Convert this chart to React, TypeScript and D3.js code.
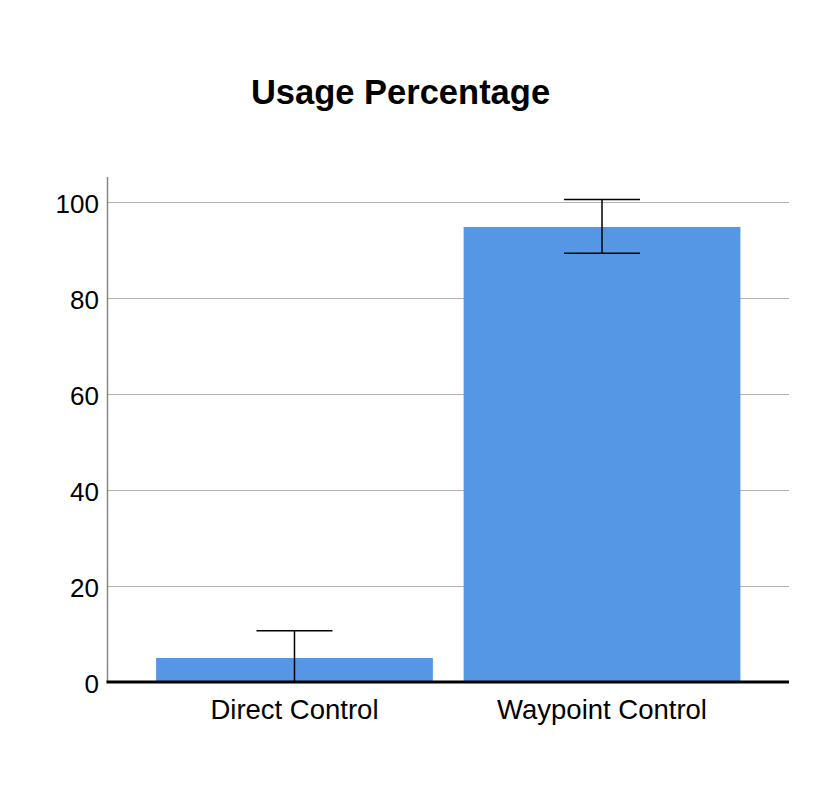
import React from "react";
import * as d3 from "d3";

const categories = ["Direct Control", "Waypoint Control"];
const means = [5.0, 94.8];
const errLow = [0, 89.3];
const errHigh = [10.7, 100.5];
const yTicks = [0, 20, 40, 60, 80, 100];
const title = "Usage Percentage";

export default function App() {
  const W = 831, H = 806;
  const left = 107.5, right = 789, top = 177, bottom = 682;
  const y = d3.scaleLinear().domain([0, 100]).range([bottom, 202]);
  const x = d3.scaleBand<string>().domain(categories).range([left, right]).paddingInner(0.1).paddingOuter(0.158);
  const font = "'Liberation Sans', Arial, Helvetica, sans-serif";
  const capW = 76;
  return (
    <svg width={W} height={H} style={{ position: "absolute", left: 0, top: 0, background: "#fff" }} fontFamily={font}>
      <text x={400.5} y={104} textAnchor="middle" fontSize={34.5} fontWeight="bold" fill="#000">{title}</text>
      {yTicks.filter(t => t > 0).map(t => (
        <line key={"g" + t} x1={left} x2={right} y1={Math.round(y(t)) + 0.5} y2={Math.round(y(t)) + 0.5} stroke="#b3b3b3" strokeWidth={1} />
      ))}
      <line x1={left} x2={left} y1={top} y2={bottom} stroke="#888" strokeWidth={1.5} />
      {categories.map((c, i) => (
        <rect key={c} x={x(c)!} y={y(means[i])} width={x.bandwidth()} height={y(0) - y(means[i])} fill="#5596e5" />
      ))}
      {categories.map((c, i) => {
        const cx = x(c)! + x.bandwidth() / 2;
        return (
          <g key={"e" + c} stroke="#000" strokeWidth={1.5}>
            <line x1={cx} x2={cx} y1={y(errHigh[i])} y2={y(errLow[i])} />
            <line x1={cx - capW / 2} x2={cx + capW / 2} y1={y(errHigh[i])} y2={y(errHigh[i])} />
            {errLow[i] > 0 && <line x1={cx - capW / 2} x2={cx + capW / 2} y1={y(errLow[i])} y2={y(errLow[i])} />}
          </g>
        );
      })}
      <line x1={left - 1} x2={right} y1={bottom} y2={bottom} stroke="#000" strokeWidth={3} />
      {yTicks.map(t => (
        <text key={"t" + t} x={99} y={y(t) + 4} textAnchor="end" dominantBaseline="middle" fontSize={26} fill="#000">{t}</text>
      ))}
      {categories.map(c => (
        <text key={"l" + c} x={x(c)! + x.bandwidth() / 2} y={719} textAnchor="middle" fontSize={27.5} fill="#000">{c}</text>
      ))}
    </svg>
  );
}
